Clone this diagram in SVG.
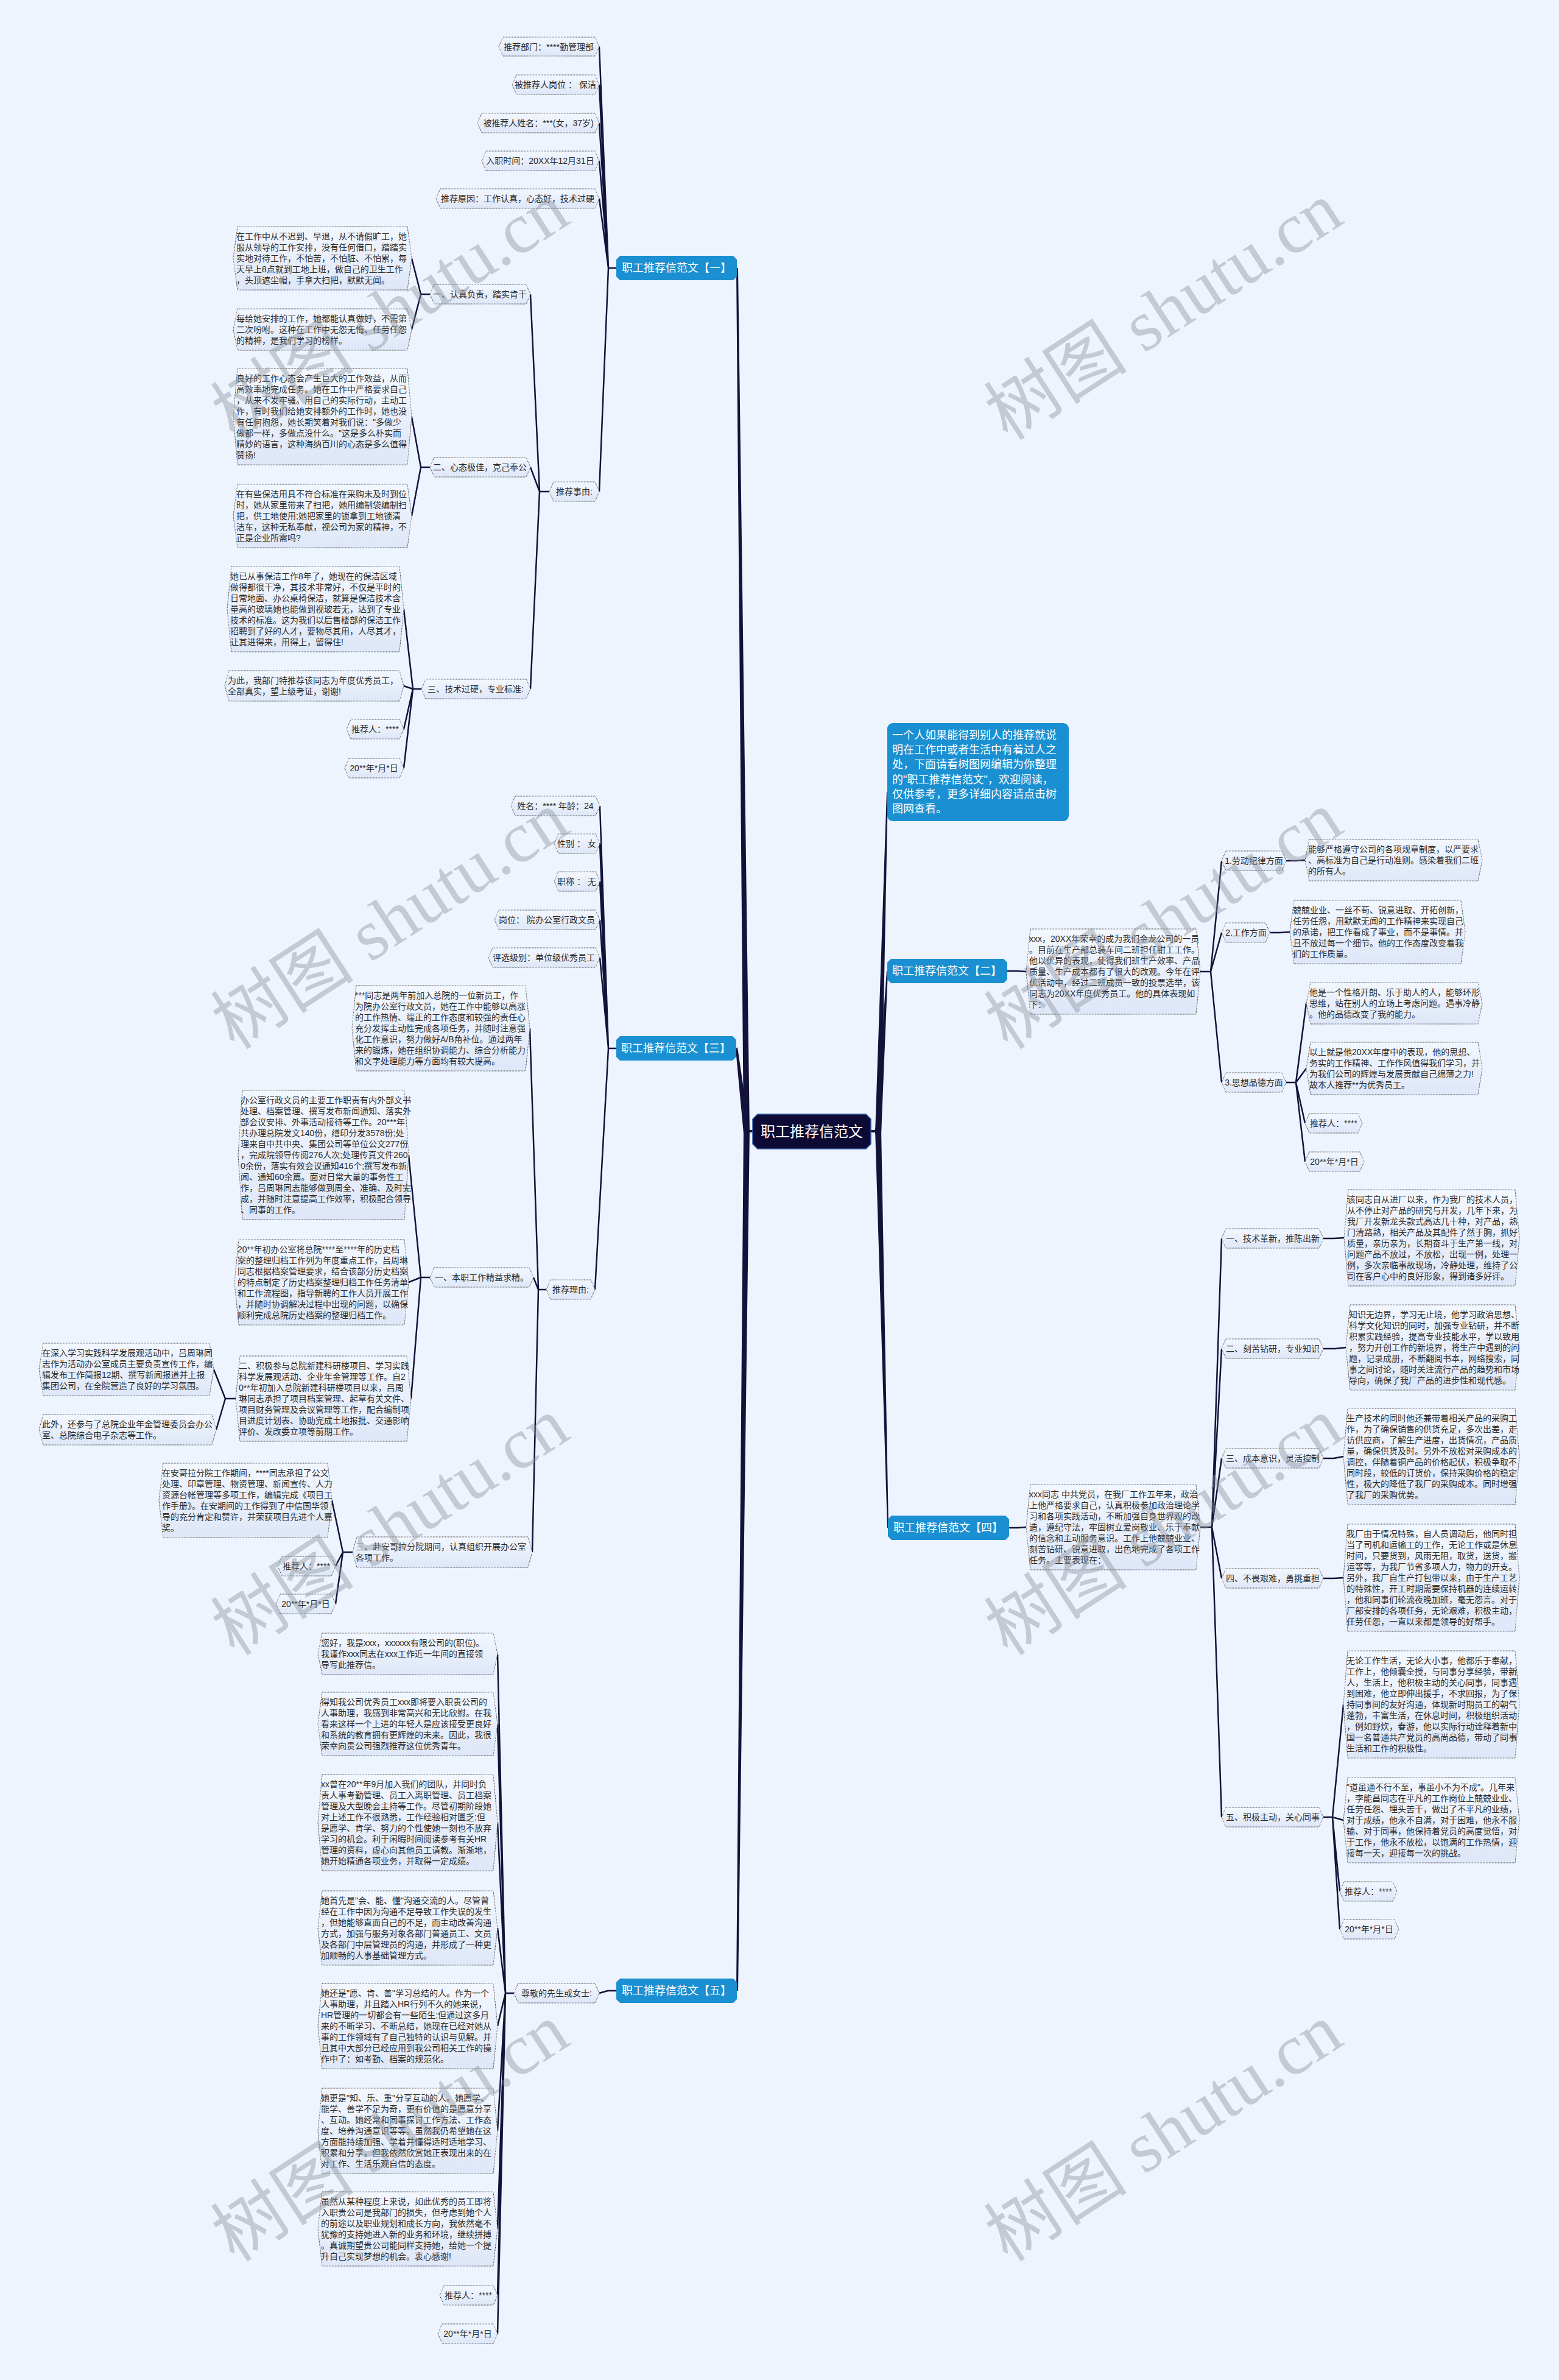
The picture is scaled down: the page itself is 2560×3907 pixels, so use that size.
<svg xmlns="http://www.w3.org/2000/svg" width="2560" height="3907" viewBox="0 0 2560 3907">
<defs>
<linearGradient id="g" x1="0" y1="0" x2="0" y2="1"><stop offset="0" stop-color="#F3F7FE"/><stop offset="1" stop-color="#DEE7F8"/></linearGradient>
<style>
.n{fill:url(#g);stroke:#3a3a3a;stroke-width:1;stroke-dasharray:1.2 1.3}
.t{font-family:"Liberation Sans","Noto Sans CJK SC",sans-serif;font-size:14px;fill:#2b2b2b}
.tc{text-anchor:middle}
.b{fill:#1A8FD1}
.bt{font-family:"Liberation Sans","Noto Sans CJK SC",sans-serif;font-size:18px;fill:#fff;text-anchor:middle}
.it{font-family:"Liberation Sans","Noto Sans CJK SC",sans-serif;font-size:18px;fill:#fff}
.c{fill:none;stroke:#14123A;stroke-width:2.5;stroke-linejoin:round}
.w{fill:#14123A}
.wm{font-family:"Liberation Serif","Noto Sans CJK SC",serif;font-size:118px;fill:#8C929B;opacity:.42}
</style>
</defs>
<rect width="2560" height="3907" fill="#EEF4FE"/>

<g id="connectors">
<polygon class="w" points="1221,1860 1231,1860 1212,440 1209,440"/>
<polygon class="w" points="1221,1861 1231,1855 1211,1719 1208,1722"/>
<polygon class="w" points="1221,1854 1231,1854 1212,3268 1209,3268"/>
<rect class="w" x="1224" y="1855" width="14" height="4"/>
<polygon class="w" points="1437,1861 1447,1861 1458,1300 1456,1300"/>
<polygon class="w" points="1437,1861 1447,1861 1458,1594 1456,1594"/>
<polygon class="w" points="1437,1853 1447,1853 1459,2508 1457,2508"/>
<rect class="w" x="1428" y="1855" width="14" height="4"/>
<path class="c" d="M1012 440H999L984 76.5M1012 440H999L984 139M1012 440H999L984 202M1012 440H999L984 264M1012 440H999L984 326M1012 440H999L984 807"/>
<path class="c" d="M902 807H886L871 483M902 807H886L871 767M902 807H886L871 1131"/>
<path class="c" d="M706 483H691L676 424M706 483H691L676 541M706 767H691L676 684M706 767H691L676 847"/>
<path class="c" d="M692 1131H678L663 1000M692 1131H678L663 1126M692 1131H678L663 1197M692 1131H678L663 1261"/>
<path class="c" d="M1012 1721H999L985 1323M1012 1721H999L985 1385M1012 1721H999L985 1447M1012 1721H999L985 1510M1012 1721H999L985 1572M1012 1721H999L977 2117"/>
<path class="c" d="M897 2117H884L870 1688M897 2117H884L876 2097M897 2117H884L874 2548"/>
<path class="c" d="M706 2097H691L671 1896M706 2097H691L671 2105M706 2097H691L675 2296"/>
<path class="c" d="M387 2296H370L351 2248M387 2296H370L355 2347"/>
<path class="c" d="M579 2548H563L545 2463M579 2548H563L551 2571M579 2548H563L551 2633"/>
<path class="c" d="M1012 3268H998L984 3272"/>
<path class="c" d="M844 3272H830L817 2715M844 3272H830L817 2830M844 3272H830L817 2992M844 3272H830L817 3165M844 3272H830L817 3326M844 3272H830L817 3498M844 3272H830L817 3659M844 3272H830L817 3768M844 3272H830L817 3831"/>
<path class="c" d="M1654 1594H1670L1685 1595"/>
<path class="c" d="M1971 1595H1988L2006 1413M1971 1595H1988L2006 1531M1971 1595H1988L2006 1777"/>
<path class="c" d="M2112 1413H2128L2143 1412M2085 1531H2102L2118 1530"/>
<path class="c" d="M2112 1777H2128L2145 1647M2112 1777H2128L2145 1754M2112 1777H2128L2143 1844M2112 1777H2128L2143 1907"/>
<path class="c" d="M1657 2508H1671L1685 2507"/>
<path class="c" d="M1971 2507H1990L2006 2033M1971 2507H1990L2006 2214M1971 2507H1990L2006 2394M1971 2507H1990L2006 2591M1971 2507H1990L2006 2983"/>
<path class="c" d="M2173 2033H2190L2207 2032M2173 2214H2192L2210 2212M2173 2394H2190L2206 2391M2173 2591H2190L2206 2590"/>
<path class="c" d="M2173 2983H2188L2206 2798M2173 2983H2188L2206 2988M2173 2983H2188L2200 3105M2173 2983H2188L2200 3167"/>
</g>

<g id="root">
<path d="M1244 1829H1422L1430 1837V1878L1422 1886H1244L1236 1878V1837Z" fill="#0D0B35" stroke="#2A5AA8" stroke-width="1.5"/>
<text x="1333" y="1866" font-family="Liberation Sans,Noto Sans CJK SC,sans-serif" font-size="24" fill="#fff" text-anchor="middle">职工推荐信范文</text>
</g>

<g id="intro">
<rect class="b" x="1457" y="1187" width="298" height="161" rx="9"/>
<text class="it"><tspan x="1465" y="1213">一个人如果能得到别人的推荐就说</tspan><tspan x="1465" y="1237">明在工作中或者生活中有着过人之</tspan><tspan x="1465" y="1261">处，下面请看树图网编辑为你整理</tspan><tspan x="1465" y="1286">的"职工推荐信范文"，欢迎阅读，</tspan><tspan x="1465" y="1310">仅供参考，更多详细内容请点击树</tspan><tspan x="1465" y="1334">图网查看。</tspan></text>
</g>

<g id="sec1">
<path class="b" d="M1018 420H1204L1210 426V454L1204 460H1018L1012 454V426Z"/>
<text class="bt" x="1111" y="446">职工推荐信范文【一】</text>
</g>
<g id="s1a"><path class="n" d="M826 61H977L984 76.5L977 92H826L819 76.5Z"/><text class="t tc" x="901" y="81.5">推荐部门：****勤管理部</text></g>
<g id="s1b"><path class="n" d="M848 123H977L984 139L977 155H848L841 139Z"/><text class="t tc" x="912" y="144">被推荐人岗位 ： 保洁</text></g>
<g id="s1c"><path class="n" d="M791 186H977L984 202L977 218H791L784 202Z"/><text class="t tc" x="884" y="207">被推荐人姓名：***(女，37岁)</text></g>
<g id="s1d"><path class="n" d="M798 248H977L984 264L977 280H798L791 264Z"/><text class="t tc" x="887" y="269">入职时间：20XX年12月31日</text></g>
<g id="s1e"><path class="n" d="M723 310H977L984 326L977 342H723L716 326Z"/><text class="t tc" x="850" y="331">推荐原因：工作认真，心态好，技术过硬</text></g>
<g id="s1f"><path class="n" d="M909 791H977L984 807L977 823H909L902 807Z"/><text class="t tc" x="943" y="812">推荐事由:</text></g>
<g id="s1f1"><path class="n" d="M713 467H864L871 483L864 499H713L706 483Z"/><text class="t tc" x="788" y="488">一、认真负责，踏实肯干</text></g>
<g id="s1f2"><path class="n" d="M713 751H864L871 767L864 783H713L706 767Z"/><text class="t tc" x="788" y="772">二、心态极佳，克己奉公</text></g>
<g id="s1f3"><path class="n" d="M699 1115H864L871 1131L864 1147H699L692 1131Z"/><text class="t tc" x="781" y="1136">三、技术过硬，专业标准:</text></g>
<g id="s1A"><path class="n" d="M390 372H669L676 424L669 476H390L383 424Z"/><text class="t"><tspan x="388" y="393">在工作中从不迟到、早退，从不请假旷工，她</tspan><tspan x="388" y="411">服从领导的工作安排，没有任何借口，踏踏实</tspan><tspan x="388" y="429">实地对待工作，不怕苦，不怕脏、不怕累，每</tspan><tspan x="388" y="447">天早上8点就到工地上班，做自己的卫生工作</tspan><tspan x="388" y="465">，头顶遮尘帽，手拿大扫把，默默无闻。</tspan></text></g>
<g id="s1B"><path class="n" d="M390 507H669L676 541L669 575H390L383 541Z"/><text class="t"><tspan x="388" y="528">每给她安排的工作，她都能认真做好，不需第</tspan><tspan x="388" y="546">二次吩咐。这种在工作中无怨无悔、任劳任怨</tspan><tspan x="388" y="564">的精神，是我们学习的榜样。</tspan></text></g>
<g id="s1C"><path class="n" d="M390 605H669L676 684L669 763H390L383 684Z"/><text class="t"><tspan x="388" y="626">良好的工作心态会产生巨大的工作效益，从而</tspan><tspan x="388" y="644">高效率地完成任务。她在工作中严格要求自己</tspan><tspan x="388" y="662">，从来不发牢骚。用自己的实际行动，主动工</tspan><tspan x="388" y="680">作，有时我们给她安排额外的工作时，她也没</tspan><tspan x="388" y="698">有任何抱怨，她长期笑着对我们说："多做少</tspan><tspan x="388" y="716">做都一样，多做点没什么。"这是多么朴实而</tspan><tspan x="388" y="734">精妙的语言，这种海纳百川的心态是多么值得</tspan><tspan x="388" y="752">赞扬!</tspan></text></g>
<g id="s1D"><path class="n" d="M390 795H669L676 847L669 899H390L383 847Z"/><text class="t"><tspan x="388" y="816">在有些保洁用具不符合标准在采购未及时到位</tspan><tspan x="388" y="834">时，她从家里带来了扫把，她用编制袋编制扫</tspan><tspan x="388" y="852">把，供工地使用;她把家里的锁拿到工地锁清</tspan><tspan x="388" y="870">洁车，这种无私奉献，视公司为家的精神，不</tspan><tspan x="388" y="888">正是企业所需吗?</tspan></text></g>
<g id="s1E"><path class="n" d="M380 930H656L663 1000L656 1070H380L373 1000Z"/><text class="t"><tspan x="378" y="951">她已从事保洁工作8年了，她现在的保洁区域</tspan><tspan x="378" y="969">做得都很干净，其技术非常好，不仅是平时的</tspan><tspan x="378" y="987">日常地面、办公桌椅保洁，就算是保洁技术含</tspan><tspan x="378" y="1005">量高的玻璃她也能做到视玻若无，达到了专业</tspan><tspan x="378" y="1023">技术的标准。这为我们以后售楼部的保洁工作</tspan><tspan x="378" y="1041">招聘到了好的人才，要物尽其用，人尽其才，</tspan><tspan x="378" y="1059">让其进得来，用得上，留得住!</tspan></text></g>
<g id="s1F"><path class="n" d="M376 1101H656L663 1126L656 1151H376L369 1126Z"/><text class="t"><tspan x="374" y="1122">为此，我部门特推荐该同志为年度优秀员工，</tspan><tspan x="374" y="1140">全部真实，望上级考证，谢谢!</tspan></text></g>
<g id="s1r"><path class="n" d="M576 1181H656L663 1197L656 1213H576L569 1197Z"/><text class="t tc" x="616" y="1202">推荐人：****</text></g>
<g id="s1d2"><path class="n" d="M573 1245H656L663 1261L656 1277H573L566 1261Z"/><text class="t tc" x="614" y="1266">20**年*月*日</text></g>

<g id="sec3">
<path class="b" d="M1018 1701H1203L1209 1707V1735L1203 1741H1018L1012 1735V1707Z"/>
<text class="bt" x="1110" y="1727">职工推荐信范文【三】</text>
</g>
<g id="s3a"><path class="n" d="M846 1307H978L985 1323L978 1339H846L839 1323Z"/><text class="t tc" x="912" y="1328">姓名：**** 年龄：24</text></g>
<g id="s3b"><path class="n" d="M917 1369H978L985 1385L978 1401H917L910 1385Z"/><text class="t tc" x="947" y="1390">性别 ： 女</text></g>
<g id="s3c"><path class="n" d="M917 1431H978L985 1447L978 1463H917L910 1447Z"/><text class="t tc" x="947" y="1452">职称 ： 无</text></g>
<g id="s3d"><path class="n" d="M819 1494H978L985 1510L978 1526H819L812 1510Z"/><text class="t tc" x="898" y="1515">岗位： 院办公室行政文员</text></g>
<g id="s3e"><path class="n" d="M809 1556H978L985 1572L978 1588H809L802 1572Z"/><text class="t tc" x="893" y="1577">评选级别：单位级优秀员工</text></g>
<g id="s3f"><path class="n" d="M904 2101H970L977 2117L970 2133H904L897 2117Z"/><text class="t tc" x="937" y="2122">推荐理由:</text></g>
<g id="s3G"><path class="n" d="M585 1618H863L870 1688L863 1758H585L578 1688Z"/><text class="t"><tspan x="583" y="1639">***同志是两年前加入总院的一位新员工，作</tspan><tspan x="583" y="1657">为院办公室行政文员，她在工作中能够以高涨</tspan><tspan x="583" y="1675">的工作热情、端正的工作态度和较强的责任心</tspan><tspan x="583" y="1693">充分发挥主动性完成各项任务，并随时注意强</tspan><tspan x="583" y="1711">化工作意识，努力做好A/B角补位。通过两年</tspan><tspan x="583" y="1729">来的锻炼，她在组织协调能力、综合分析能力</tspan><tspan x="583" y="1747">和文字处理能力等方面均有较大提高。</tspan></text></g>
<g id="s3f1"><path class="n" d="M713 2081H869L876 2097L869 2113H713L706 2097Z"/><text class="t tc" x="791" y="2102">一、本职工作精益求精。</text></g>
<g id="s3H"><path class="n" d="M398 1790H664L671 1896L664 2002H398L391 1896Z"/><text class="t"><tspan x="395" y="1811">办公室行政文员的主要工作职责有内外部文书</tspan><tspan x="395" y="1829">处理、档案管理、撰写发布新闻通知、落实外</tspan><tspan x="395" y="1847">部会议安排、外事活动接待等工作。20***年</tspan><tspan x="395" y="1865">共办理总院发文140份，缮印分发3578份;处</tspan><tspan x="395" y="1883">理来自中共中央、集团公司等单位公文277份</tspan><tspan x="395" y="1901">，完成院领导传阅276人次;处理传真文件260</tspan><tspan x="395" y="1919">0余份，落实有效会议通知416个;撰写发布新</tspan><tspan x="395" y="1937">闻、通知60余篇。面对日常大量的事务性工</tspan><tspan x="395" y="1955">作，吕周琳同志能够做到周全、准确、及时完</tspan><tspan x="395" y="1973">成，并随时注意提高工作效率，积极配合领导</tspan><tspan x="395" y="1991">、同事的工作。</tspan></text></g>
<g id="s3I"><path class="n" d="M392 2035H664L671 2105L664 2175H392L385 2105Z"/><text class="t"><tspan x="390" y="2056">20**年初办公室将总院****至****年的历史档</tspan><tspan x="390" y="2074">案的整理归档工作列为年度重点工作，吕周琳</tspan><tspan x="390" y="2092">同志根据档案管理要求，结合该部分历史档案</tspan><tspan x="390" y="2110">的特点制定了历史档案整理归档工作任务清单</tspan><tspan x="390" y="2128">和工作流程图，指导新聘的工作人员开展工作</tspan><tspan x="390" y="2146">，并随时协调解决过程中出现的问题，以确保</tspan><tspan x="390" y="2164">顺利完成总院历史档案的整理归档工作。</tspan></text></g>
<g id="s3L"><path class="n" d="M394 2226H668L675 2296L668 2366H394L387 2296Z"/><text class="t"><tspan x="392" y="2247">二、积极参与总院新建科研楼项目、学习实践</tspan><tspan x="392" y="2265">科学发展观活动、企业年金管理等工作。自2</tspan><tspan x="392" y="2283">0**年初加入总院新建科研楼项目以来，吕周</tspan><tspan x="392" y="2301">琳同志承担了项目档案管理、起草有关文件、</tspan><tspan x="392" y="2319">项目财务管理及会议管理等工作，配合编制项</tspan><tspan x="392" y="2337">目进度计划表、协助完成土地报批、交通影响</tspan><tspan x="392" y="2355">评价、发改委立项等前期工作。</tspan></text></g>
<g id="s3J"><path class="n" d="M71 2205H344L351 2248L344 2291H71L64 2248Z"/><text class="t"><tspan x="69" y="2226">在深入学习实践科学发展观活动中，吕周琳同</tspan><tspan x="69" y="2244">志作为活动办公室成员主要负责宣传工作，编</tspan><tspan x="69" y="2262">辑发布工作简报12期、撰写新闻报道并上报</tspan><tspan x="69" y="2280">集团公司，在全院营造了良好的学习氛围。</tspan></text></g>
<g id="s3K"><path class="n" d="M71 2322H348L355 2347L348 2372H71L64 2347Z"/><text class="t"><tspan x="69" y="2343">此外，还参与了总院企业年金管理委员会办公</tspan><tspan x="69" y="2361">室、总院综合电子杂志等工作。</tspan></text></g>
<g id="s3f3"><path class="n" d="M586 2523H867L874 2548L867 2573H586L579 2548Z"/><text class="t"><tspan x="584" y="2544">三、赴安哥拉分院期间，认真组织开展办公室</tspan><tspan x="584" y="2562">各项工作。</tspan></text></g>
<g id="s3M"><path class="n" d="M268 2402H538L545 2463L538 2524H268L261 2463Z"/><text class="t"><tspan x="266" y="2423">在安哥拉分院工作期间，****同志承担了公文</tspan><tspan x="266" y="2441">处理、印章管理、物资管理、新闻宣传、人力</tspan><tspan x="266" y="2459">资源台帐管理等多项工作，编辑完成《项目工</tspan><tspan x="266" y="2477">作手册》。在安期间的工作得到了中信国华领</tspan><tspan x="266" y="2495">导的充分肯定和赞许，并荣获项目先进个人嘉</tspan><tspan x="266" y="2513">奖。</tspan></text></g>
<g id="s3r"><path class="n" d="M463 2555H544L551 2571L544 2587H463L456 2571Z"/><text class="t tc" x="503" y="2576">推荐人：****</text></g>
<g id="s3d2"><path class="n" d="M460 2617H544L551 2633L544 2649H460L453 2633Z"/><text class="t tc" x="502" y="2638">20**年*月*日</text></g>

<g id="sec5">
<path class="b" d="M1018 3248H1204L1210 3254V3282L1204 3288H1018L1012 3282V3254Z"/>
<text class="bt" x="1111" y="3274">职工推荐信范文【五】</text>
</g>
<g id="s5a"><path class="n" d="M851 3256H977L984 3272L977 3288H851L844 3272Z"/><text class="t tc" x="914" y="3277">尊敬的先生或女士:</text></g>
<g id="s5N1"><path class="n" d="M529 2681H810L817 2715L810 2749H529L522 2715Z"/><text class="t"><tspan x="527" y="2702">您好，我是xxx，xxxxxx有限公司的(职位)。</tspan><tspan x="527" y="2720">我谨作xxx同志在xxx工作近一年间的直接领</tspan><tspan x="527" y="2738">导写此推荐信。</tspan></text></g>
<g id="s5N2"><path class="n" d="M529 2778H810L817 2830L810 2882H529L522 2830Z"/><text class="t"><tspan x="527" y="2799">得知我公司优秀员工xxx即将要入职贵公司的</tspan><tspan x="527" y="2817">人事助理，我感到非常高兴和无比欣慰。在我</tspan><tspan x="527" y="2835">看来这样一个上进的年轻人是应该接受更良好</tspan><tspan x="527" y="2853">和系统的教育拥有更辉煌的未来。因此，我很</tspan><tspan x="527" y="2871">荣幸向贵公司强烈推荐这位优秀青年。</tspan></text></g>
<g id="s5N3"><path class="n" d="M529 2913H810L817 2992L810 3071H529L522 2992Z"/><text class="t"><tspan x="527" y="2934">xx曾在20**年9月加入我们的团队，并同时负</tspan><tspan x="527" y="2952">责人事考勤管理、员工入离职管理、员工档案</tspan><tspan x="527" y="2970">管理及大型晚会主持等工作。尽管初期阶段她</tspan><tspan x="527" y="2988">对上述工作不很熟悉，工作经验相对匮乏;但</tspan><tspan x="527" y="3006">是愿学、肯学、努力的个性使她一刻也不放弃</tspan><tspan x="527" y="3024">学习的机会。利于闲暇时间阅读参考有关HR</tspan><tspan x="527" y="3042">管理的资料，虚心向其他员工请教。渐渐地，</tspan><tspan x="527" y="3060">她开始精通各项业务，并取得一定成绩。</tspan></text></g>
<g id="s5N4"><path class="n" d="M529 3104H810L817 3165L810 3226H529L522 3165Z"/><text class="t"><tspan x="527" y="3125">她首先是"会、能、懂"沟通交流的人。尽管曾</tspan><tspan x="527" y="3143">经在工作中因为沟通不足导致工作失误的发生</tspan><tspan x="527" y="3161">，但她能够直面自己的不足，而主动改善沟通</tspan><tspan x="527" y="3179">方式，加强与服务对象各部门普通员工、文员</tspan><tspan x="527" y="3197">及各部门中层管理员的沟通，并形成了一种更</tspan><tspan x="527" y="3215">加顺畅的人事基础管理方式。</tspan></text></g>
<g id="s5N5"><path class="n" d="M529 3256H810L817 3326L810 3396H529L522 3326Z"/><text class="t"><tspan x="527" y="3277">她还是"愿、肯、善"学习总结的人。作为一个</tspan><tspan x="527" y="3295">人事助理，并且踏入HR行列不久的她来说，</tspan><tspan x="527" y="3313">HR管理的一切都会有一些陌生;但通过这多月</tspan><tspan x="527" y="3331">来的不断学习、不断总结，她现在已经对她从</tspan><tspan x="527" y="3349">事的工作领域有了自己独特的认识与见解。并</tspan><tspan x="527" y="3367">且其中大部分已经应用到我公司相关工作的操</tspan><tspan x="527" y="3385">作中了：如考勤、档案的规范化。</tspan></text></g>
<g id="s5N6"><path class="n" d="M529 3428H810L817 3498L810 3568H529L522 3498Z"/><text class="t"><tspan x="527" y="3449">她更是"知、乐、重"分享互动的人。她愿学、</tspan><tspan x="527" y="3467">能学、善学不足为奇，更有价值的是愿意分享</tspan><tspan x="527" y="3485">、互动。她经常和同事探讨工作方法、工作态</tspan><tspan x="527" y="3503">度、培养沟通意识等等。虽然我仍希望她在这</tspan><tspan x="527" y="3521">方面能持续加强、学着并懂得适时适地学习、</tspan><tspan x="527" y="3539">积累和分享，但我依然欣赏她正表现出来的在</tspan><tspan x="527" y="3557">对工作、生活乐观自信的态度。</tspan></text></g>
<g id="s5N7"><path class="n" d="M529 3598H810L817 3659L810 3720H529L522 3659Z"/><text class="t"><tspan x="527" y="3619">虽然从某种程度上来说，如此优秀的员工即将</tspan><tspan x="527" y="3637">入职贵公司是我部门的损失，但考虑到她个人</tspan><tspan x="527" y="3655">的前途以及职业规划和成长方向，我依然毫不</tspan><tspan x="527" y="3673">犹豫的支持她进入新的业务和环境，继续拼搏</tspan><tspan x="527" y="3691">。真诚期望贵公司能同样支持她，给她一个提</tspan><tspan x="527" y="3709">升自己实现梦想的机会。衷心感谢!</tspan></text></g>
<g id="s5r"><path class="n" d="M729 3752H810L817 3768L810 3784H729L722 3768Z"/><text class="t tc" x="769" y="3773">推荐人：****</text></g>
<g id="s5d"><path class="n" d="M726 3815H810L817 3831L810 3847H726L719 3831Z"/><text class="t tc" x="768" y="3836">20**年*月*日</text></g>

<g id="sec2">
<path class="b" d="M1463 1574H1648L1654 1580V1608L1648 1614H1463L1457 1608V1580Z"/>
<text class="bt" x="1555" y="1600">职工推荐信范文【二】</text>
</g>
<g id="s2P"><path class="n" d="M1692 1525H1964L1971 1595L1964 1665H1692L1685 1595Z"/><text class="t"><tspan x="1690" y="1546">xxx，20XX年荣幸的成为我们金龙公司的一员</tspan><tspan x="1690" y="1564">。目前在生产部总装车间二班担任钳工工作。</tspan><tspan x="1690" y="1582">他以优异的表现，使得我们班生产效率、产品</tspan><tspan x="1690" y="1600">质量、生产成本都有了很大的改观。今年在评</tspan><tspan x="1690" y="1618">优活动中，经过二班成员一致的投票选举，该</tspan><tspan x="1690" y="1636">同志为20XX年度优秀员工。他的具体表现如</tspan><tspan x="1690" y="1654">下：</tspan></text></g>
<g id="s2a"><path class="n" d="M2013 1397H2105L2112 1413L2105 1429H2013L2006 1413Z"/><text class="t tc" x="2059" y="1418">1.劳动纪律方面</text></g>
<g id="s2Q1"><path class="n" d="M2150 1378H2427L2434 1412L2427 1446H2150L2143 1412Z"/><text class="t"><tspan x="2148" y="1399">能够严格遵守公司的各项规章制度，以严要求</tspan><tspan x="2148" y="1417">、高标准为自己是行动准则。感染着我们二班</tspan><tspan x="2148" y="1435">的所有人。</tspan></text></g>
<g id="s2b"><path class="n" d="M2013 1515H2078L2085 1531L2078 1547H2013L2006 1531Z"/><text class="t tc" x="2046" y="1536">2.工作方面</text></g>
<g id="s2Q2"><path class="n" d="M2125 1478H2399L2406 1530L2399 1582H2125L2118 1530Z"/><text class="t"><tspan x="2123" y="1499">兢兢业业、一丝不苟、锐意进取、开拓创新，</tspan><tspan x="2123" y="1517">任劳任怨，用默默无闻的工作精神来实现自己</tspan><tspan x="2123" y="1535">的承诺，把工作看成了事业，而不是事情。并</tspan><tspan x="2123" y="1553">且不放过每一个细节。他的工作态度改变着我</tspan><tspan x="2123" y="1571">们的工作质量。</tspan></text></g>
<g id="s2c"><path class="n" d="M2013 1761H2105L2112 1777L2105 1793H2013L2006 1777Z"/><text class="t tc" x="2059" y="1782">3.思想品德方面</text></g>
<g id="s2Q3"><path class="n" d="M2152 1613H2427L2434 1647L2427 1681H2152L2145 1647Z"/><text class="t"><tspan x="2150" y="1634">他是一个性格开朗、乐于助人的人，能够环形</tspan><tspan x="2150" y="1652">思维，站在别人的立场上考虑问题。遇事冷静</tspan><tspan x="2150" y="1670">。他的品德改变了我的能力。</tspan></text></g>
<g id="s2Q4"><path class="n" d="M2152 1711H2427L2434 1754L2427 1797H2152L2145 1754Z"/><text class="t"><tspan x="2150" y="1732">以上就是他20XX年度中的表现，他的思想、</tspan><tspan x="2150" y="1750">务实的工作精神、工作作风值得我们学习，并</tspan><tspan x="2150" y="1768">为我们公司的辉煌与发展贡献自己绵薄之力!</tspan><tspan x="2150" y="1786">故本人推荐**为优秀员工。</tspan></text></g>
<g id="s2r"><path class="n" d="M2150 1828H2230L2237 1844L2230 1860H2150L2143 1844Z"/><text class="t tc" x="2190" y="1849">推荐人：****</text></g>
<g id="s2d"><path class="n" d="M2150 1891H2233L2240 1907L2233 1923H2150L2143 1907Z"/><text class="t tc" x="2191" y="1912">20**年*月*日</text></g>

<g id="sec4">
<path class="b" d="M1464 2488H1651L1657 2494V2522L1651 2528H1464L1458 2522V2494Z"/>
<text class="bt" x="1557" y="2514">职工推荐信范文【四】</text>
</g>
<g id="s4R"><path class="n" d="M1692 2437H1964L1971 2507L1964 2577H1692L1685 2507Z"/><text class="t"><tspan x="1690" y="2458">xxx同志 中共党员，在我厂工作五年来，政治</tspan><tspan x="1690" y="2476">上他严格要求自己，认真积极参加政治理论学</tspan><tspan x="1690" y="2494">习和各项实践活动，不断加强自身世界观的改</tspan><tspan x="1690" y="2512">造，遵纪守法，牢固树立爱岗敬业、乐于奉献</tspan><tspan x="1690" y="2530">的信念和主动服务意识。工作上他兢兢业业、</tspan><tspan x="1690" y="2548">刻苦钻研、锐意进取，出色地完成了各项工作</tspan><tspan x="1690" y="2566">任务。主要表现在：</tspan></text></g>
<g id="s4a"><path class="n" d="M2013 2017H2166L2173 2033L2166 2049H2013L2006 2033Z"/><text class="t tc" x="2090" y="2038">一、技术革新，推陈出新</text></g>
<g id="s4S1"><path class="n" d="M2214 1953H2488L2495 2032L2488 2111H2214L2207 2032Z"/><text class="t"><tspan x="2212" y="1974">该同志自从进厂以来，作为我厂的技术人员，</tspan><tspan x="2212" y="1992">从不停止对产品的研究与开发，几年下来，为</tspan><tspan x="2212" y="2010">我厂开发新龙头款式高达几十种，对产品，熟</tspan><tspan x="2212" y="2028">门清路熟，相关产品及其配件了然于胸，抓好</tspan><tspan x="2212" y="2046">质量，亲历亲为，长期奋斗于生产第一线，对</tspan><tspan x="2212" y="2064">问题产品不放过，不放松，出现一例，处理一</tspan><tspan x="2212" y="2082">例，多次亲临事故现场，冷静处理，维持了公</tspan><tspan x="2212" y="2100">司在客户心中的良好形象，得到诸多好评。</tspan></text></g>
<g id="s4b"><path class="n" d="M2013 2198H2166L2173 2214L2166 2230H2013L2006 2214Z"/><text class="t tc" x="2090" y="2219">二、刻苦钻研，专业知识</text></g>
<g id="s4S2"><path class="n" d="M2217 2142H2488L2495 2212L2488 2282H2217L2210 2212Z"/><text class="t"><tspan x="2215" y="2163">知识无边界，学习无止境，他学习政治思想、</tspan><tspan x="2215" y="2181">科学文化知识的同时，加强专业钻研，并不断</tspan><tspan x="2215" y="2199">积累实践经验，提高专业技能水平，学以致用</tspan><tspan x="2215" y="2217">，努力开创工作的新境界，将生产中遇到的问</tspan><tspan x="2215" y="2235">题，记录成册，不断翻阅书本，网络搜索，同</tspan><tspan x="2215" y="2253">事之间讨论，随时关注流行产品的趋势和市场</tspan><tspan x="2215" y="2271">导向，确保了我厂产品的进步性和现代感。</tspan></text></g>
<g id="s4c"><path class="n" d="M2013 2378H2166L2173 2394L2166 2410H2013L2006 2394Z"/><text class="t tc" x="2090" y="2399">三、成本意识，灵活控制</text></g>
<g id="s4S3"><path class="n" d="M2213 2312H2488L2495 2391L2488 2470H2213L2206 2391Z"/><text class="t"><tspan x="2211" y="2333">生产技术的同时他还兼带着相关产品的采购工</tspan><tspan x="2211" y="2351">作，为了确保销售的供货充足，多次出差，走</tspan><tspan x="2211" y="2369">访供应商，了解生产进度，出货情况，产品质</tspan><tspan x="2211" y="2387">量，确保供货及时。另外不放松对采购成本的</tspan><tspan x="2211" y="2405">调控，伴随着铜产品的价格起伏，积极争取不</tspan><tspan x="2211" y="2423">同时段，较低的订货价，保持采购价格的稳定</tspan><tspan x="2211" y="2441">性，极大的降低了我厂的采购成本。同时增强</tspan><tspan x="2211" y="2459">了我厂的采购优势。</tspan></text></g>
<g id="s4d"><path class="n" d="M2013 2575H2166L2173 2591L2166 2607H2013L2006 2591Z"/><text class="t tc" x="2090" y="2596">四、不畏艰难，勇挑重担</text></g>
<g id="s4S4"><path class="n" d="M2213 2502H2488L2495 2590L2488 2678H2213L2206 2590Z"/><text class="t"><tspan x="2211" y="2523">我厂由于情况特殊，自人员调动后，他同时担</tspan><tspan x="2211" y="2541">当了司机和运输工的工作，无论工作或是休息</tspan><tspan x="2211" y="2559">时间，只要货到，风雨无阻，取货，送货，搬</tspan><tspan x="2211" y="2577">运等等，为我厂节省多项人力，物力的开支。</tspan><tspan x="2211" y="2595">另外，我厂自生产打包带以来，由于生产工艺</tspan><tspan x="2211" y="2613">的特殊性，开工时期需要保持机器的连续运转</tspan><tspan x="2211" y="2631">，他和同事们轮流夜晚加班，毫无怨言。对于</tspan><tspan x="2211" y="2649">厂部安排的各项任务，无论艰难，积极主动，</tspan><tspan x="2211" y="2667">任劳任怨，一直以来都是领导的好帮手。</tspan></text></g>
<g id="s4e"><path class="n" d="M2013 2967H2166L2173 2983L2166 2999H2013L2006 2983Z"/><text class="t tc" x="2090" y="2988">五、积极主动，关心同事</text></g>
<g id="s4S5"><path class="n" d="M2213 2710H2488L2495 2798L2488 2886H2213L2206 2798Z"/><text class="t"><tspan x="2211" y="2731">无论工作生活，无论大小事，他都乐于奉献，</tspan><tspan x="2211" y="2749">工作上，他倾囊全授，与同事分享经验，带新</tspan><tspan x="2211" y="2767">人，生活上，他积极主动的关心同事，同事遇</tspan><tspan x="2211" y="2785">到困难，他立即伸出援手，不求回报，为了保</tspan><tspan x="2211" y="2803">持同事间的友好沟通，体现新时期员工的朝气</tspan><tspan x="2211" y="2821">蓬勃，丰富生活，在休息时间，积极组织活动</tspan><tspan x="2211" y="2839">，例如野炊，春游，他以实际行动诠释着新中</tspan><tspan x="2211" y="2857">国一名普通共产党员的高尚品德，带动了同事</tspan><tspan x="2211" y="2875">生活和工作的积极性。</tspan></text></g>
<g id="s4S6"><path class="n" d="M2213 2918H2488L2495 2988L2488 3058H2213L2206 2988Z"/><text class="t"><tspan x="2211" y="2939">"道虽通不行不至，事虽小不为不成"。几年来</tspan><tspan x="2211" y="2957">，李能昌同志在平凡的工作岗位上兢兢业业、</tspan><tspan x="2211" y="2975">任劳任怨、埋头苦干，做出了不平凡的业绩，</tspan><tspan x="2211" y="2993">对于成绩，他永不自满，对于困难，他永不服</tspan><tspan x="2211" y="3011">输、对于同事，他保持着党员的高度觉悟，对</tspan><tspan x="2211" y="3029">于工作，他永不放松，以饱满的工作热情，迎</tspan><tspan x="2211" y="3047">接每一天，迎接每一次的挑战。</tspan></text></g>
<g id="s4r"><path class="n" d="M2207 3089H2287L2294 3105L2287 3121H2207L2200 3105Z"/><text class="t tc" x="2247" y="3110">推荐人：****</text></g>
<g id="s4d2"><path class="n" d="M2207 3151H2290L2297 3167L2290 3183H2207L2200 3167Z"/><text class="t tc" x="2248" y="3172">20**年*月*日</text></g>

<g id="watermark">
<text class="wm" transform="translate(385 725) rotate(-33)">树图 shutu.cn</text>
<text class="wm" transform="translate(1655 725) rotate(-33)">树图 shutu.cn</text>
<text class="wm" transform="translate(385 1725) rotate(-33)">树图 shutu.cn</text>
<text class="wm" transform="translate(1655 1725) rotate(-33)">树图 shutu.cn</text>
<text class="wm" transform="translate(385 2720) rotate(-33)">树图 shutu.cn</text>
<text class="wm" transform="translate(1655 2720) rotate(-33)">树图 shutu.cn</text>
<text class="wm" transform="translate(385 3715) rotate(-33)">树图 shutu.cn</text>
<text class="wm" transform="translate(1655 3715) rotate(-33)">树图 shutu.cn</text>
</g>
</svg>
